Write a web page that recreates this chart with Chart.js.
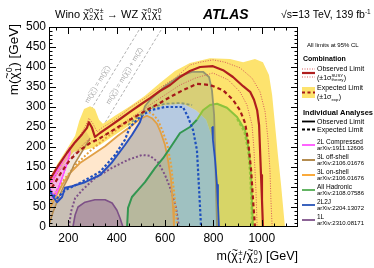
<!DOCTYPE html>
<html>
<head>
<meta charset="utf-8">
<script src="https://cdn.jsdelivr.net/npm/chart.js@4.4.1/dist/chart.umd.min.js"></script>
<style>
  html, body { margin: 0; padding: 0; background: #fff; }
  #wrap { width: 374px; height: 268px; }
</style>
</head>
<body>
<div id="wrap"><canvas id="c" width="374" height="268"></canvas></div>
<script>
// axis ranges and tick labels
const xMin = 120, xMax = 1150, yMin = 0, yMax = 500;
const xTicks = [200, 400, 600, 800, 1000];
const yTicks = [0, 50, 100, 150, 200, 250, 300, 350, 400, 450, 500];

// kinematic lines m(N2)=m(N1) and m(N2)=m(N1)+m(Z)
const kinDiag = [[240, 240], [500, 500]];
const kinZ = [[331, 240], [591, 500]];

// combination: observed, theory +-1 sigma, expected, expected +-1 sigma band edges
const combObs = [[120,115],[157,152],[194,185],[228,212],[257,232],[277,248],[285,262],[298,248],[310,225],[331,235],[372,252],[414,270],[455,288],[496,305],[538,322],[579,340],[621,355],[662,375],[703,390],[745,400],[798,402],[840,392],[881,375],[923,352],[952,338],[968,318],[981,292],[989,255],[993,192],[997,130],[1001,68],[1005,0]];
const theoryUp = [[120,118],[166,160],[207,200],[248,228],[273,255],[285,272],[302,258],[319,238],[339,248],[393,268],[455,298],[517,322],[579,348],[641,372],[703,405],[745,412],[798,418],[848,412],[910,398],[960,372],[993,338],[1014,288],[1026,218],[1034,142],[1038,68],[1043,0]];
const theoryDown = [[120,108],[166,142],[207,172],[248,198],[281,218],[310,212],[352,230],[414,255],[496,288],[579,322],[662,355],[724,372],[798,385],[861,368],[910,338],[939,305],[960,255],[968,192],[976,92],[981,0]];
const combExp = [[132,98],[166,132],[207,168],[248,192],[290,210],[331,222],[393,245],[455,268],[517,290],[579,310],[621,325],[674,342],[732,358],[786,355],[840,342],[881,318],[910,292],[931,260],[943,218],[956,142],[964,68],[972,0]];
const bandOuter = [[1096,0],[1080,105],[1067,180],[1055,255],[1043,330],[1030,380],[1005,412],[972,420],[923,412],[869,420],[786,422],[703,410],[641,390],[579,360],[517,328],[455,302],[393,278],[343,258],[327,268],[310,295],[290,302],[265,295],[245,265],[228,228],[194,195],[157,160],[120,120]];
const bandInner = [[120,88],[153,130],[186,162],[223,188],[265,192],[302,198],[331,205],[372,222],[422,242],[463,258],[505,278],[546,295],[600,305],[674,308],[728,292],[770,268],[794,225],[807,155],[811,80],[815,0]];

// individual analyses
const oliveObs = [[505,278],[517,302],[538,318],[600,352],[662,378],[712,388],[757,388],[782,375],[794,342],[803,280],[807,192],[811,92],[815,0]];
const oliveExp = [[447,255],[496,280],[538,298],[600,308],[662,310],[712,305]];
const blueObs = [[120,98],[132,80],[153,62],[174,75],[186,98],[215,102],[269,112],[331,130],[381,162],[434,205],[463,230],[496,262],[505,278]];
const blueObsHigh = [[795,250],[798,218],[807,168],[815,105],[819,55],[823,0]];
const blueExp = [[124,88],[153,72],[186,92],[248,110],[331,138],[393,180],[434,218],[455,250],[496,275],[538,292],[600,300],[674,300],[695,275],[716,242],[732,192],[741,92],[749,0]];
const greenObs = [[443,0],[447,48],[463,75],[488,92],[517,112],[559,148],[592,172],[629,205],[662,235],[703,250],[732,268],[757,292],[786,305],[815,308],[856,298],[898,275],[931,242],[947,192],[956,130],[960,55],[964,0]];
const greenExp = [[898,270],[928,238],[944,190],[952,130],[957,60],[960,0]];
const orangeObs = [[120,42],[145,72],[174,105],[207,135],[248,160],[298,180],[352,202],[405,228],[455,250],[496,270],[525,278],[546,272],[567,258],[583,235],[600,205],[612,168],[625,118],[633,50],[637,0]];
const orangeExp = [[120,55],[165,105],[230,155],[290,190],[350,220],[415,250],[475,275],[515,288],[545,285],[570,268],[590,240],[610,205],[625,155],[637,90],[645,40],[650,0]];
const offshell = [[120,5],[137,38],[157,68],[178,98],[199,122],[223,155],[248,180],[273,205],[290,222],[273,240],[240,222],[207,198],[174,172],[145,142],[120,118]];
const pinkObs = [[125,95],[135,72],[150,82],[170,115],[190,150],[207,185],[205,198],[190,182],[170,160],[150,138],[135,120],[125,110]];
const pinkExp = [[124,100],[138,80],[160,100],[185,140],[205,175],[200,190],[180,168],[158,140],[140,118],[124,106]];
const purpleObs = [[219,0],[228,30],[240,50],[269,62],[310,68],[352,68],[381,60],[401,42],[414,22],[426,0]];
const purpleExp = [[203,0],[211,38],[228,72],[257,92],[310,122],[381,148],[447,168],[505,180],[538,178],[571,162],[600,130],[625,92],[645,50],[658,0]];

const legendNames = ['2L Compressed', '3L off-shell', '3L on-shell', 'All Hadronic', '2L2J', '1L'];
const legendRefs = ['arXiv:1911.12606', 'arXiv:2106.01676', 'arXiv:2106.01676', 'arXiv:2108.07586', 'arXiv:2204.13072', 'arXiv:2310.08171'];
const legendColors = ['rgb(255,100,255)', 'rgb(180,140,80)', 'rgb(250,170,60)', 'rgb(100,180,100)', 'rgb(60,100,190)', 'rgb(140,100,150)'];

const FONT = '"Liberation Sans", Helvetica, Arial, sans-serif';
const bandColor = 'rgb(253,227,110)';
const red = 'rgb(175,30,30)';

// build datasets, bottom layer first
let layers = [];
function area(data, color) {
  layers.push({ data: data, showLine: true, fill: 'shape', backgroundColor: color,
    borderColor: 'transparent', borderWidth: 0, pointRadius: 0, pointHoverRadius: 0 });
}
function contour(data, color, width, dash) {
  layers.push({ data: data, showLine: true, fill: false, borderColor: color, borderWidth: width,
    borderDash: dash || [], borderJoinStyle: 'round', pointRadius: 0, pointHoverRadius: 0 });
}

contour(kinDiag, 'rgb(178,178,178)', 1, [3, 2]);
contour(kinZ, 'rgb(178,178,178)', 1, [3, 2]);

area(bandOuter.concat(bandInner), bandColor);
area(oliveObs.concat(bandInner.slice(10, 19).reverse()), 'rgba(141,164,139,0.32)');
area(blueObs.concat(bandInner.slice(11), [[xMin, yMin]]), 'rgba(110,150,195,0.5)');
area(greenObs, 'rgba(80,165,80,0.22)');
area(orangeObs.concat([[xMin, yMin]]), 'rgba(255,160,50,0.25)');
area(offshell, 'rgba(185,145,85,0.22)');
area(pinkObs, 'rgba(255,90,255,0.35)');
area(purpleObs, 'rgba(120,60,120,0.3)');

contour(purpleExp, 'rgb(125,80,135)', 2, [2, 2]);
contour(purpleObs, 'rgb(125,80,135)', 1.6);
contour(orangeExp, 'rgb(232,160,60)', 2, [2, 2]);
contour(orangeObs, 'rgb(225,160,70)', 1.8);
contour(offshell.slice(0, 9), 'rgb(180,140,80)', 1.5);
contour(pinkExp, 'rgb(255,80,255)', 1.5, [1.5, 1.5]);
contour(pinkObs, 'rgb(255,80,255)', 1.4);
contour(greenExp, 'rgb(150,200,60)', 2, [3, 2]);
contour(greenObs.slice(0, 11), 'rgb(50,150,80)', 2);
contour(greenObs.slice(10), 'rgb(140,195,60)', 2);
contour(blueExp, 'rgb(30,80,190)', 2.2, [2.5, 2]);
contour(oliveExp, 'rgb(140,155,120)', 1.8, [3, 2]);
contour(oliveObs, 'rgb(150,150,110)', 1.8);
contour(blueObs, 'rgb(40,80,190)', 2);
contour(blueObsHigh, 'rgb(40,80,190)', 1.8);
contour(theoryUp, 'rgb(215,90,90)', 1, [1, 1.5]);
contour(theoryDown, 'rgb(215,90,90)', 1, [1, 1.5]);
contour(combExp, 'rgb(165,25,25)', 2.2, [4, 3]);
contour(combObs, red, 2.2);

layers.forEach((d, i) => { d.order = layers.length - i; });

// text with sub/superscripts, chi with a tilde on top
function rich(ctx, parts, x, y, size, measureOnly) {
  let cx = x;
  for (const p of parts) {
    if (typeof p === 'string') {
      ctx.font = size + 'px ' + FONT;
      if (!measureOnly) ctx.fillText(p, cx, y);
      cx += ctx.measureText(p).width;
      continue;
    }
    if (p.chi) {
      ctx.font = size + 'px ' + FONT;
      const w = ctx.measureText('χ').width;
      if (!measureOnly) {
        ctx.fillText('χ', cx, y);
        ctx.font = (size * 0.8) + 'px ' + FONT;
        const tw = ctx.measureText('~').width;
        ctx.fillText('~', cx + (w - tw) / 2 + size * 0.04, y - size * 0.5);
      }
      cx += w + size * 0.03;
    }
    const ss = size * 0.62;
    ctx.font = ss + 'px ' + FONT;
    let w = 0;
    if (p.sup) {
      w = Math.max(w, ctx.measureText(p.sup).width);
      if (!measureOnly) ctx.fillText(p.sup, cx, y - size * 0.42);
    }
    if (p.sub) {
      w = Math.max(w, ctx.measureText(p.sub).width);
      if (!measureOnly) ctx.fillText(p.sub, cx, y + size * 0.22);
    }
    cx += w + size * 0.05;
  }
  return cx - x;
}
const chi = (sup, sub) => ({ chi: true, sup: sup, sub: sub });

const titleParts = ['Wino ', chi('0', '2'), chi('±', '1'), ' → WZ ', chi('0', '1'), chi('0', '1')];
const energyParts = ['√s=13 TeV, 139 fb', { sup: '-1' }];
const xTitleParts = ['m(', chi('±', '1'), '/', chi('0', '2'), ') [GeV]'];
const yTitleParts = ['m(', chi('0', '1'), ') [GeV]'];
const kinLabel1 = ['m(', chi('0', '2'), ') = m(', chi('0', '1'), ')'];
const kinLabel2 = ['m(', chi('0', '2'), ') = m(', chi('0', '1'), ') + m(Z)'];

const frameTicks = {
  id: 'frameTicks',
  afterDatasetsDraw(chart) {
    const { ctx, chartArea: a, scales: { x, y } } = chart;
    ctx.save();
    ctx.strokeStyle = '#000';
    ctx.lineWidth = 1;
    ctx.beginPath();
    for (let v = 150; v < xMax; v += 50) {
      const px = Math.round(x.getPixelForValue(v)) + 0.5;
      const len = v % 200 === 0 ? 7 : 3.5;
      ctx.moveTo(px, a.bottom); ctx.lineTo(px, a.bottom - len);
      ctx.moveTo(px, a.top); ctx.lineTo(px, a.top + len);
    }
    for (let v = 10; v < yMax; v += 10) {
      const py = Math.round(y.getPixelForValue(v)) + 0.5;
      const len = v % 50 === 0 ? 7 : 3.5;
      ctx.moveTo(a.left, py); ctx.lineTo(a.left + len, py);
      ctx.moveTo(a.right, py); ctx.lineTo(a.right - len, py);
    }
    ctx.stroke();
    ctx.strokeRect(a.left + 0.5, a.top + 0.5, a.right - a.left - 1, a.bottom - a.top - 1);
    ctx.restore();
  }
};

function drawKinLabel(ctx, xs, ys, line, anchor, parts) {
  const x0 = xs.getPixelForValue(line[0][0]), y0 = ys.getPixelForValue(line[0][1]);
  const x1 = xs.getPixelForValue(line[1][0]), y1 = ys.getPixelForValue(line[1][1]);
  const ang = Math.atan2(y1 - y0, x1 - x0);
  const ax = xs.getPixelForValue(anchor[0]) + 8 * Math.sin(ang);
  const ay = ys.getPixelForValue(anchor[1]) - 8 * Math.cos(ang);
  const w = rich(ctx, parts, 0, 0, 7, true);
  ctx.save();
  ctx.translate(ax, ay);
  ctx.rotate(ang);
  ctx.fillStyle = 'rgb(165,165,165)';
  rich(ctx, parts, -w / 2, 2.5, 7);
  ctx.restore();
}

const decor = {
  id: 'decor',
  afterDraw(chart) {
    const ctx = chart.ctx;
    const xs = chart.scales.x, ys = chart.scales.y;
    ctx.save();
    ctx.textAlign = 'left';
    ctx.textBaseline = 'alphabetic';

    drawKinLabel(ctx, xs, ys, kinDiag, [347, 347], kinLabel1);
    drawKinLabel(ctx, xs, ys, kinZ, [459, 368], kinLabel2);

    ctx.fillStyle = '#000';
    rich(ctx, titleParts, 55, 18, 11);
    ctx.font = 'italic bold 14px ' + FONT;
    ctx.fillText('ATLAS', 203, 19);
    rich(ctx, energyParts, 281, 18, 10.5);

    const wx = rich(ctx, xTitleParts, 0, 0, 12.5, true);
    rich(ctx, xTitleParts, 298 - wx, 260, 12.5);
    ctx.save();
    ctx.translate(18, 24);
    ctx.rotate(-Math.PI / 2);
    const wy = rich(ctx, yTitleParts, 0, 0, 13.5, true);
    rich(ctx, yTitleParts, -wy, 0, 13.5);
    ctx.restore();

    // legend
    ctx.font = '6px ' + FONT;
    ctx.fillText('All limits at 95% CL', 307, 47);
    ctx.font = 'bold 7px ' + FONT;
    ctx.fillText('Combination', 303, 60.5);

    ctx.lineWidth = 1;
    ctx.strokeStyle = 'rgb(215,90,90)';
    ctx.setLineDash([1, 1.5]);
    ctx.beginPath();
    ctx.moveTo(302, 69); ctx.lineTo(315, 69);
    ctx.moveTo(302, 77); ctx.lineTo(315, 77);
    ctx.stroke();
    ctx.setLineDash([]);
    ctx.lineWidth = 2.2;
    ctx.strokeStyle = red;
    ctx.beginPath(); ctx.moveTo(302, 73); ctx.lineTo(315, 73); ctx.stroke();
    ctx.font = '7px ' + FONT;
    ctx.fillText('Observed Limit', 317, 70.5);
    rich(ctx, ['(±1σ', { sup: 'SUSY', sub: 'theory' }, ')'], 317, 79.5, 7);

    ctx.fillStyle = bandColor;
    ctx.fillRect(302, 87, 13, 11);
    ctx.strokeStyle = 'rgb(165,25,25)';
    ctx.setLineDash([3, 2.5]);
    ctx.beginPath(); ctx.moveTo(302, 92.5); ctx.lineTo(315, 92.5); ctx.stroke();
    ctx.setLineDash([]);
    ctx.fillStyle = '#000';
    ctx.font = '7px ' + FONT;
    ctx.fillText('Expected Limit', 317, 90);
    rich(ctx, ['(±1σ', { sub: 'exp' }, ')'], 317, 99, 7);

    ctx.font = 'bold 7.5px ' + FONT;
    ctx.fillText('Individual Analyses', 303, 115);
    ctx.strokeStyle = '#000';
    ctx.lineWidth = 1.8;
    ctx.beginPath(); ctx.moveTo(302, 121.5); ctx.lineTo(315, 121.5); ctx.stroke();
    ctx.setLineDash([3, 2]);
    ctx.beginPath(); ctx.moveTo(302, 129.5); ctx.lineTo(315, 129.5); ctx.stroke();
    ctx.setLineDash([]);
    ctx.font = '7px ' + FONT;
    ctx.fillText('Observed Limit', 317, 124);
    ctx.fillText('Expected Limit', 317, 132);

    legendNames.forEach((name, i) => {
      const c = 145 + 15 * i;
      ctx.strokeStyle = legendColors[i];
      ctx.lineWidth = 2;
      ctx.beginPath(); ctx.moveTo(302, c); ctx.lineTo(315, c); ctx.stroke();
      ctx.fillStyle = '#000';
      ctx.font = '6.5px ' + FONT;
      ctx.fillText(name, 317, c - 1.2);
      ctx.font = '6px ' + FONT;
      ctx.fillText(legendRefs[i], 317, c + 5.2);
    });
    ctx.restore();
  }
};

Chart.defaults.font.family = FONT;

new Chart(document.getElementById('c'), {
  type: 'scatter',
  data: { datasets: layers },
  options: {
    responsive: false,
    devicePixelRatio: 1,
    animation: false,
    events: [],
    layout: { padding: { top: 27, right: 76, bottom: 0, left: 0 } },
    plugins: { legend: { display: false }, tooltip: { enabled: false } },
    scales: {
      x: {
        type: 'linear', min: xMin, max: xMax,
        afterFit: (s) => { s.height = 41; },
        afterBuildTicks: (s) => { s.ticks = xTicks.map((v) => ({ value: v })); },
        grid: { display: false, drawTicks: false },
        border: { display: false },
        ticks: { color: '#000', font: { size: 12 }, padding: 4, maxRotation: 0, minRotation: 0,
          autoSkip: false, callback: (v) => String(v) }
      },
      y: {
        type: 'linear', min: yMin, max: yMax,
        afterFit: (s) => { s.width = 49; },
        afterBuildTicks: (s) => { s.ticks = yTicks.map((v) => ({ value: v })); },
        grid: { display: false, drawTicks: false },
        border: { display: false },
        ticks: { color: '#000', font: { size: 12 }, padding: 3, autoSkip: false,
          callback: (v) => String(v) }
      }
    }
  },
  plugins: [frameTicks, decor]
});
</script>
</body>
</html>
